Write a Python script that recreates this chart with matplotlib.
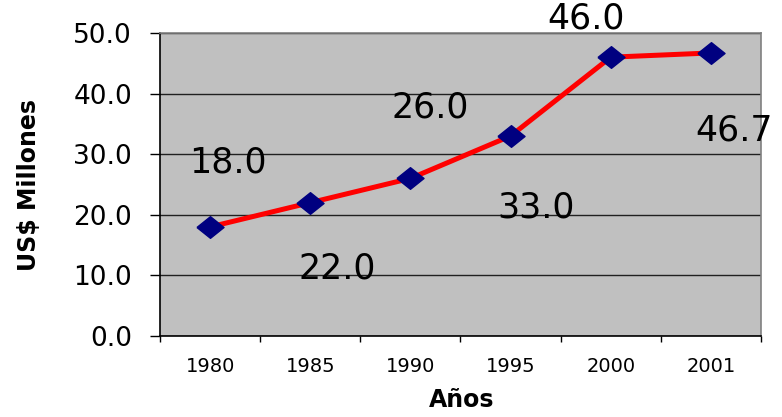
import numpy as np
import matplotlib
matplotlib.use("Agg")
import matplotlib.pyplot as plt
from matplotlib.ticker import FixedLocator, FormatStrFormatter

anios = ["1980", "1985", "1990", "1995", "2000", "2001"]
valores = [18.0, 22.0, 26.0, 33.0, 46.0, 46.7]
# desplazamiento de las etiquetas de datos (pixeles), como quedaron en el original
offs_x = [18, 27, 20, 25, -25, 23]
offs_y = [64, -66, 71, -72, 39, -78]

plt.rcParams['font.family'] = ['DejaVu Sans']

fig = plt.figure(figsize=(7.82, 4.17), dpi=100)
ax = fig.add_axes([0.2046, 0.1942, 0.9731 - 0.2046, 0.921 - 0.1942])
ax.set_facecolor("#C0C0C0")

x = np.arange(len(anios))
ax.plot(x, valores, color="#FF0000", lw=3.6, zorder=3)
diamante = [(-1, 0), (0, 0.8), (1, 0), (0, -0.8), (-1, 0)]
ax.plot(x, valores, ls="none", marker=diamante, ms=19.5, color="#000080", zorder=4)

for i, v in enumerate(valores):
    ax.annotate(f"{v:.1f}", (x[i], v), xytext=(offs_x[i], offs_y[i]),
                textcoords="offset pixels", ha="center", va="center",
                fontsize=25, color="black", zorder=5, annotation_clip=False)

ax.set_xlim(-0.5, len(anios) - 0.5)
ax.set_ylim(0, 50)
ax.set_yticks(np.arange(0, 51, 10))
ax.yaxis.set_major_formatter(FormatStrFormatter("%.1f"))
ax.yaxis.grid(True, color="#202020", lw=1.0)
ax.set_axisbelow(True)

ax.set_xticks(x)
ax.set_xticklabels(anios)
ax.xaxis.set_minor_locator(FixedLocator(np.arange(-0.5, len(anios), 1.0)))
ax.tick_params(axis="x", which="major", length=0, pad=15, labelsize=14)
ax.tick_params(axis="x", which="minor", length=4.5, width=1, direction="out")
ax.tick_params(axis="y", length=7.2, width=1, pad=13, labelsize=19, direction="out")

for s in ["top", "right"]:
    ax.spines[s].set_color("#808080")
    ax.spines[s].set_linewidth(1.2)
for s in ["left", "bottom"]:
    ax.spines[s].set_color("black")
    ax.spines[s].set_linewidth(1.2)

ax.set_ylabel("US$ Millones", fontsize=17, fontweight="bold")
ax.yaxis.set_label_coords(-0.198, 0.498)
ax.set_xlabel("Años", fontsize=17, fontweight="bold")
ax.xaxis.set_label_coords(0.502, -0.172)

plt.savefig("out.png", dpi=100)
